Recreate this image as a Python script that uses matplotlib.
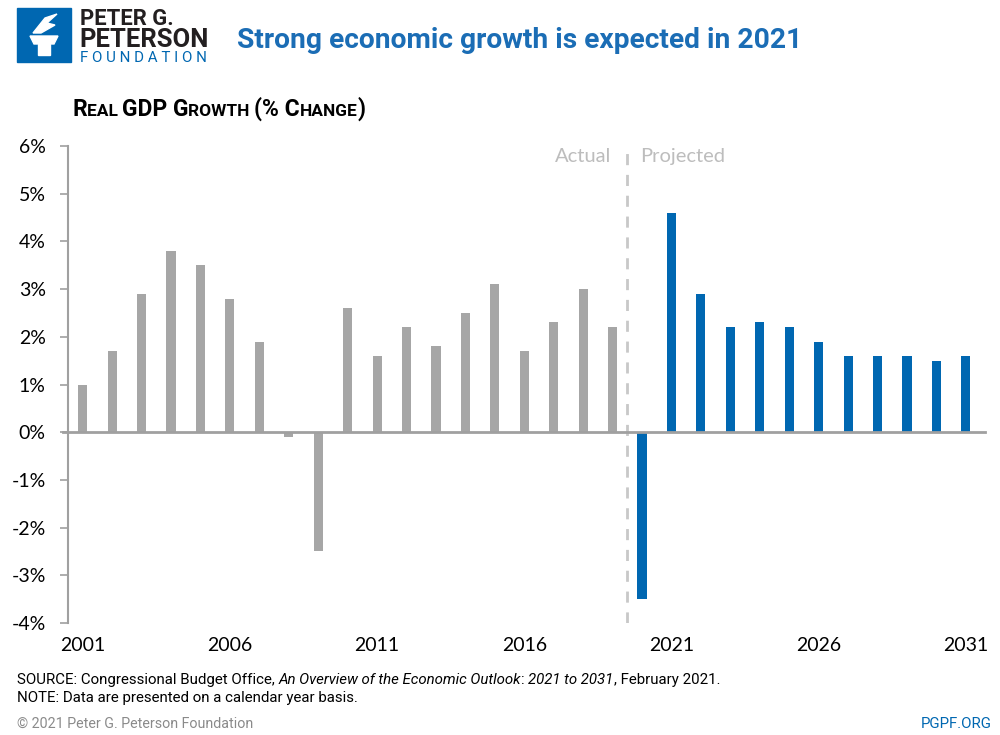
import matplotlib
matplotlib.use("Agg")
import matplotlib.pyplot as plt
import matplotlib.patches as mpatches

# datos
anios = list(range(2001, 2032))
crecimiento = [1.0, 1.7, 2.9, 3.8, 3.5, 2.8, 1.9, -0.1, -2.5, 2.6,
               1.6, 2.2, 1.8, 2.5, 3.1, 1.7, 2.3, 3.0, 2.2, -3.5,
               4.6, 2.9, 2.2, 2.3, 2.2, 1.9, 1.6, 1.6, 1.6, 1.5, 1.6]
ultimo_real = 2019
etiquetas_x = [2001, 2006, 2011, 2016, 2021, 2026, 2031]
etiquetas_y = [-4, -3, -2, -1, 0, 1, 2, 3, 4, 5, 6]

GRIS = "#a6a6a6"
AZUL = "#0067b1"
AZUL_TITULO = "#1b6db5"
fuente = ["Lato", "DejaVu Sans"]

fig = plt.figure(figsize=(10, 7.35), dpi=100)
ax = fig.add_axes([0.068, 1 - 623 / 735, 0.917, (623 - 146) / 735])

colores = [GRIS if a <= ultimo_real else AZUL for a in anios]
ax.bar(anios, crecimiento, width=0.31, color=colores, zorder=2)

ax.set_xlim(2000.5, 2031.65)
ax.set_ylim(-4, 6)
ax.set_yticks(etiquetas_y)
ax.set_yticklabels([f"{v}%" for v in etiquetas_y], family=fuente, fontsize=14)
ax.set_xticks(etiquetas_x)
ax.set_xticklabels([str(a) for a in etiquetas_x], family=fuente, fontsize=14)
ax.tick_params(axis="y", length=6, width=1.2, color="#a0a0a0", pad=10)
ax.tick_params(axis="x", length=0, pad=10)
for s in ["top", "right", "bottom"]:
    ax.spines[s].set_visible(False)
ax.spines["left"].set_color("#a0a0a0")
ax.spines["left"].set_linewidth(1.5)

ax.axhline(0, xmin=-0.005, xmax=1, color="#a0a0a0", lw=2, zorder=3, clip_on=False)
ax.axvline(ultimo_real + 0.5, color="#c8c8c8", lw=2, ls=(0, (4, 3.5)), zorder=1)
ax.text(ultimo_real + 0.5 - 0.55, 5.78, "Actual", ha="right", va="center",
        color="#bdbdbd", fontsize=14.5, family=fuente)
ax.text(ultimo_real + 0.5 + 0.45, 5.78, "Projected", ha="left", va="center",
        color="#bdbdbd", fontsize=14.5, family=fuente)

fig.canvas.draw()
r = fig.canvas.get_renderer()


def texto_ancho(x, y, s, ancho, tam, **kw):
    # ajusta el tamano para que el texto ocupe el ancho pedido (en pixeles)
    t = fig.text(x / 1000, 1 - y / 735, s, fontsize=tam, **kw)
    w = t.get_window_extent(renderer=r).width
    t.set_fontsize(tam * ancho / w)
    return t


def piezas(x, y, lista, **kw):
    x = x / 1000
    for txt, tam, estilo in lista:
        t = fig.text(x, 1 - y / 735, txt, fontsize=tam, style=estilo,
                     va="baseline", **kw)
        x += t.get_window_extent(renderer=r).width / 1000


# logo
fig.patches.append(mpatches.Rectangle((17 / 1000, 1 - 62 / 735), 54 / 1000, 54 / 735,
                                      transform=fig.transFigure, color=AZUL))
fig.patches.append(mpatches.Polygon([(30 / 1000, 1 - 36 / 735), (58 / 1000, 1 - 36 / 735),
                                     (54 / 1000, 1 - 44 / 735), (34 / 1000, 1 - 44 / 735)],
                                    transform=fig.transFigure, color="white"))
fig.patches.append(mpatches.Rectangle((38 / 1000, 1 - 55 / 735), 12 / 1000, 11 / 735,
                                      transform=fig.transFigure, color="white"))
fig.patches.append(mpatches.Polygon([(33 / 1000, 1 - 33 / 735), (45 / 1000, 1 - 18 / 735),
                                     (57 / 1000, 1 - 14 / 735), (47 / 1000, 1 - 23 / 735),
                                     (55 / 1000, 1 - 25 / 735), (41 / 1000, 1 - 33 / 735)],
                                    transform=fig.transFigure, color="white"))
texto_ancho(80, 25, "PETER G.", 94, 14, fontweight="bold", family="Roboto",
            color="#231f20", va="baseline")
texto_ancho(79, 47, "PETERSON", 129, 20, fontweight="bold", family="Roboto",
            color="#231f20", va="baseline")
texto_ancho(80, 62, "F O U N D A T I O N", 127, 9, family="Roboto",
            color=AZUL, va="baseline")

texto_ancho(237, 40, "Strong economic growth is expected in 2021", 563, 20,
            fontweight="bold", color=AZUL_TITULO, family="Roboto", va="center")

# subtitulo en versalitas
piezas(72, 116, [("R", 16.5, "normal"), ("EAL ", 12.5, "normal"), ("GDP ", 16.5, "normal"),
                 ("G", 16.5, "normal"), ("ROWTH ", 12.5, "normal"), ("(% C", 16.5, "normal"),
                 ("HANGE", 12.5, "normal"), (")", 16.5, "normal")],
       fontweight="bold", family="Roboto", color="black")

fuente_nota = "Roboto"
tam_nota = 10.8
piezas(17, 684, [("SOURCE: Congressional Budget Office, ", tam_nota, "normal"),
                 ("An Overview of the Economic Outlook", tam_nota, "italic"),
                 (": ", tam_nota, "normal"), ("2021 to 2031", tam_nota, "italic"),
                 (", February 2021.", tam_nota, "normal")],
       family=fuente_nota, color="black")
fig.text(17 / 1000, 1 - 702 / 735, "NOTE: Data are presented on a calendar year basis.",
         fontsize=tam_nota, family=fuente_nota, va="baseline")
fig.text(17 / 1000, 1 - 728 / 735, "\u00a9 2021 Peter G. Peterson Foundation",
         fontsize=10.3, family=fuente_nota, color="#8a8a8a", va="baseline")
fig.text(992 / 1000, 1 - 728 / 735, "PGPF.ORG", fontsize=10.8, family=fuente_nota,
         color=AZUL, va="baseline", ha="right")

fig.savefig("out.png", dpi=100)
